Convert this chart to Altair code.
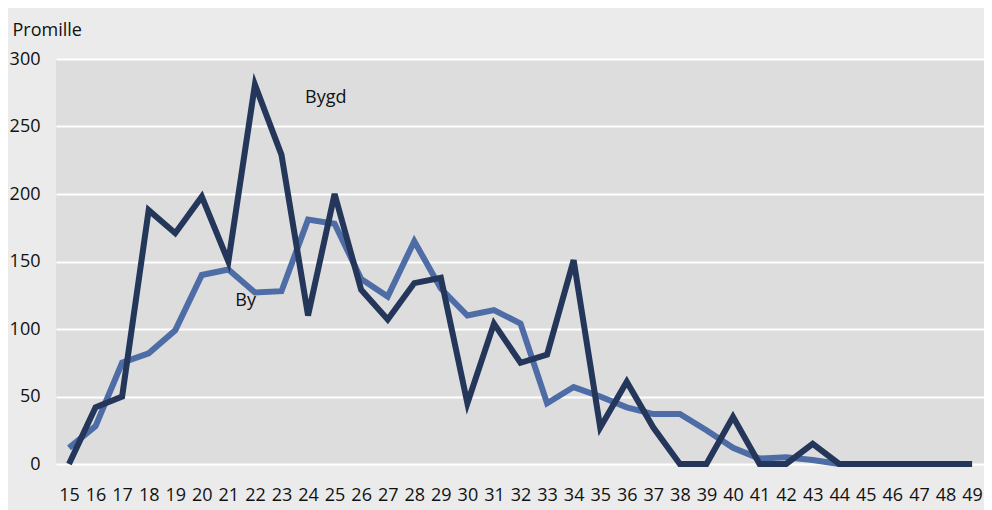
import altair as alt
import pandas as pd

ages = [15, 16, 17, 18, 19, 20, 21, 22, 23, 24, 25, 26, 27, 28, 29, 30, 31, 32,
        33, 34, 35, 36, 37, 38, 39, 40, 41, 42, 43, 44, 45, 46, 47, 48, 49]
by = [12, 28, 75, 82, 99, 140, 144, 127, 128, 181, 178, 137, 124, 165, 130, 110,
      114, 104, 45, 57, 50, 42, 37, 37, 25, 12, 4, 5, 3, 0, 0, 0, 0, 0, 0]
bygd = [0, 42, 50, 188, 171, 198, 150, 281, 229, 110, 200, 129, 107, 134, 138, 45,
        104, 75, 81, 151, 27, 61, 27, 0, 0, 35, 0, 0, 15, 0, 0, 0, 0, 0, 0]
series_names = ["By", "Bygd"]
series_colors = ["#4e6ca6", "#24365a"]
y_ticks = [0, 50, 100, 150, 200, 250, 300]

label_text = ["Bygd", "By"]
label_age = [24, 21]
label_val = [271, 121]

rows = []
for name, vals in zip(series_names, [by, bygd]):
    for a, v in zip(ages, vals):
        rows.append({"age": a, "value": v, "serie": name})
df = pd.DataFrame(rows)
labels = pd.DataFrame({"age": label_age, "value": label_val, "text": label_text})

FONT = "Open Sans"
FS = 18

x = alt.X("age:Q", scale=alt.Scale(domain=[14.5105, 49.45], nice=False, zero=False),
          axis=alt.Axis(title=None, values=ages, format="d", labelAngle=0, ticks=False,
                        domain=False, labelPadding=22, labelFontSize=FS, labelColor="#111111",
                        labelFont=FONT, grid=False, labelOverlap=False, labelFlush=False,
                        labelBound=False))
y = alt.Y("value:Q", scale=alt.Scale(domain=[0, 300], nice=False),
          axis=alt.Axis(title="Promille", values=y_ticks,
                        ticks=False, domain=False, labelPadding=16, labelFontSize=FS,
                        labelColor="#111111", labelFont=FONT,
                        gridColor="#ffffff", gridWidth=2, gridOpacity=1,
                        titleAngle=0, titleAlign="left", titleBaseline="middle",
                        titleX=-44, titleY=-29, titleFontSize=FS, titleFontWeight="normal",
                        titleFont=FONT, titleColor="#111111"))

lines = alt.Chart(df).mark_line(strokeWidth=6).encode(
    x=x, y=y,
    color=alt.Color("serie:N", scale=alt.Scale(domain=series_names, range=series_colors), legend=None),
    order=alt.Order("age:Q"),
)

t1 = alt.Chart(labels[labels.text == "Bygd"]).mark_text(align="left", baseline="middle", fontSize=FS,
                                                         font=FONT, color="#111111", dx=-3).encode(
    x=x, y=y, text="text:N")
t2 = alt.Chart(labels[labels.text == "By"]).mark_text(align="left", baseline="middle", fontSize=FS,
                                                       font=FONT, color="#111111", dx=7).encode(
    x=x, y=y, text="text:N")

chart = alt.layer(lines, t1, t2).properties(
    width=928, height=405,
    autosize=alt.AutoSizeParams(type="none"),
    padding={"left": 48, "top": 51, "right": 0, "bottom": 46},
    background="#ebebeb",
).configure_view(stroke=None, fill="#dddddd")

chart.save("out.html", embed_options={"renderer": "svg", "actions": False})
